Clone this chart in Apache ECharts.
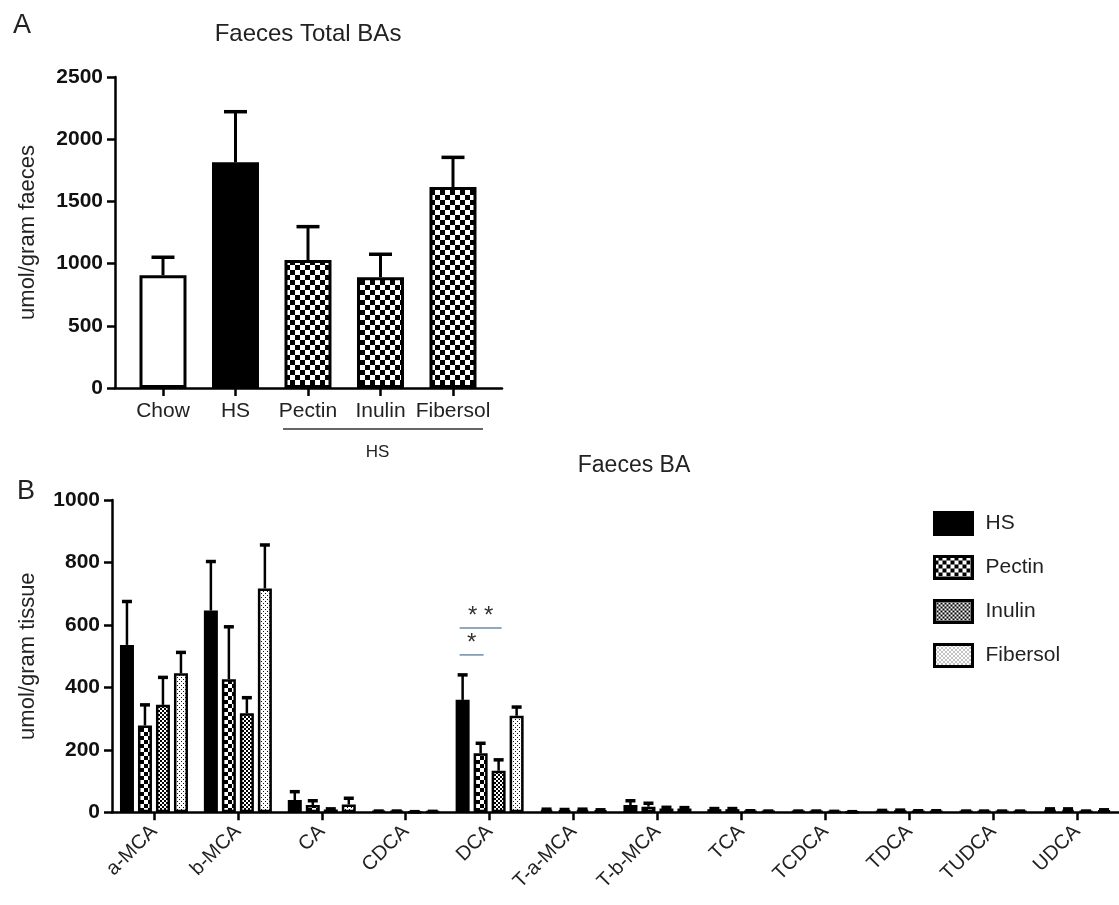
<!DOCTYPE html>
<html><head><meta charset="utf-8">
<script src="https://cdn.jsdelivr.net/npm/echarts@6/dist/echarts.min.js"></script>
<style>html,body{margin:0;padding:0;background:#fff}#c{width:1119px;height:905px}</style>
</head><body><div id="c"></div>
<script>
// ---------- Panel A data ----------
const groupsA = ['Chow', 'HS', 'Pectin', 'Inulin', 'Fibersol'];
const meanA = [906, 1814, 1029, 890, 1616];
const semA = [145, 407, 268, 185, 238];
const bracketA = { from: 2, to: 4, label: 'HS' };

// ---------- Panel B data ----------
const categoriesB = ['a-MCA', 'b-MCA', 'CA', 'CDCA', 'DCA', 'T-a-MCA', 'T-b-MCA', 'TCA', 'TCDCA', 'TDCA', 'TUDCA', 'UDCA'];
const seriesNamesB = ['HS', 'Pectin', 'Inulin', 'Fibersol'];
const hsB = [536, 646, 39, 3, 360, 8, 23, 10, 3, 4, 3, 8];
const hsErrB = [139, 157, 27, 1, 80, 2, 14, 2, 1, 2, 1, 3];
const pectinB = [278, 426, 23, 3, 189, 7, 18, 10, 3, 5, 3, 8];
const pectinErrB = [66, 168, 14, 1, 32, 2, 11, 2, 1, 2, 1, 3];
const inulinB = [344, 317, 9, 1, 133, 8, 12, 4, 2, 4, 3, 3];
const inulinErrB = [88, 50, 2, 1, 35, 2, 4, 1, 1, 1, 1, 1];
const fibersolB = [445, 717, 25, 2, 309, 6, 12, 3, 1, 4, 3, 6];
const fibersolErrB = [67, 139, 20, 1, 28, 2, 3, 1, 1, 1, 1, 2];
const sigCat = 4; // DCA
const sigPairs = [[0, 2], [0, 1]];
const sigY = [590, 504];
const sigLabels = ['* *', '*'];

// ---------- styles ----------
const FONT = '"Liberation Sans", Arial, Helvetica, sans-serif';
function pat(w, h, draw) {
  const c = document.createElement('canvas'); c.width = w; c.height = h;
  const g = c.getContext('2d'); draw(g);
  return { image: c, repeat: 'repeat' };
}
const checkerA = pat(10, 10, g => { g.fillStyle = '#fff'; g.fillRect(0, 0, 10, 10); g.fillStyle = '#000'; g.fillRect(0, 0, 5, 5); g.fillRect(5, 5, 5, 5); });
const pectinPat = pat(8, 8, g => { g.fillStyle = '#000'; g.fillRect(0, 0, 8, 8); g.fillStyle = '#fff'; g.fillRect(0, 0, 4, 4); g.fillRect(4, 4, 4, 4); });
const inulinPat = pat(4, 4, g => { g.fillStyle = '#fff'; g.fillRect(0, 0, 4, 4); g.fillStyle = '#000'; g.fillRect(0, 0, 2, 2); g.fillRect(2, 2, 2, 2); });
const fiberPat = pat(4, 4, g => { g.fillStyle = '#fff'; g.fillRect(0, 0, 4, 4); g.fillStyle = '#111'; g.fillRect(1, 1, 1, 1); g.fillRect(3, 3, 1, 1); });
const fillA = ['#fff', '#000', checkerA, checkerA, checkerA];
const fillB = ['#000', pectinPat, inulinPat, fiberPat];

const valuesB = [hsB, pectinB, inulinB, fibersolB];
const errsB = [hsErrB, pectinErrB, inulinErrB, fibersolErrB];
const BW = 14, GAP = 4;

function errRender(offsetFn, capW, lw, capLw) {
  return function (params, api) {
    const x = api.value(0), y1 = api.value(1), y2 = api.value(2);
    const p1 = api.coord([x, y1]), p2 = api.coord([x, y2]);
    const cx = p1[0] + offsetFn(params);
    return {
      type: 'group', children: [
        { type: 'line', shape: { x1: cx, y1: p1[1], x2: cx, y2: p2[1] }, style: { stroke: '#000', lineWidth: lw } },
        { type: 'line', shape: { x1: cx - capW / 2, y1: p2[1], x2: cx + capW / 2, y2: p2[1] }, style: { stroke: '#000', lineWidth: capLw } }
      ]
    };
  };
}

const axisCommon = {
  axisLine: { show: true, onZero: false, lineStyle: { color: '#000', width: 2.5 } },
  axisTick: { show: true, length: 8, lineStyle: { color: '#000', width: 2.5 } },
  splitLine: { show: false }
};

const series = [];
// Panel A bars
series.push({
  type: 'bar', name: 'TotalA', xAxisIndex: 0, yAxisIndex: 0, barWidth: 47,
  itemStyle: { borderColor: '#000', borderWidth: 3 },
  data: meanA.map((v, i) => ({ value: [i, v], itemStyle: { color: fillA[i] } })),
  z: 2
});
series.push({
  type: 'custom', name: 'errA', xAxisIndex: 0, yAxisIndex: 0, z: 3,
  renderItem: errRender(() => 0, 23, 3, 3.5),
  data: meanA.map((v, i) => [i, v, v + semA[i]])
});
series.push({
  type: 'custom', name: 'bracketA', xAxisIndex: 0, yAxisIndex: 0, z: 3,
  renderItem: function (params, api) {
    const a = api.coord([api.value(0), 0]), b = api.coord([api.value(1), 0]);
    const y = a[1] + 41;
    return {
      type: 'group', children: [
        { type: 'line', shape: { x1: a[0] - 25, y1: y, x2: b[0] + 30, y2: y }, style: { stroke: '#333', lineWidth: 1.3 } },
        { type: 'text', style: { text: bracketA.label, x: (a[0] + b[0]) / 2 - 3, y: y + 23, font: '17px ' + FONT, fill: '#222', textAlign: 'center', textVerticalAlign: 'middle', align: 'center', verticalAlign: 'middle' } }
      ]
    };
  },
  data: [[bracketA.from, bracketA.to]]
});
// Panel B bars
seriesNamesB.forEach((nm, k) => {
  series.push({
    type: 'bar', name: nm, xAxisIndex: 1, yAxisIndex: 1, barWidth: BW, barGap: (GAP / BW * 100) + '%',
    itemStyle: { color: fillB[k], borderColor: '#000', borderWidth: 2.5 },
    data: valuesB[k], z: 2
  });
});
seriesNamesB.forEach((nm, k) => {
  series.push({
    type: 'custom', name: 'err' + nm, xAxisIndex: 1, yAxisIndex: 1, z: 3,
    renderItem: errRender(() => (k - 1.5) * (BW + GAP), 10, 2.5, 3.5),
    data: valuesB[k].map((v, i) => [i, v, v + errsB[k][i]])
  });
});
series.push({
  type: 'custom', name: 'sig', xAxisIndex: 1, yAxisIndex: 1, z: 4,
  renderItem: function (params, api) {
    const i = params.dataIndex;
    const pr = sigPairs[i];
    const p = api.coord([sigCat, sigY[i]]);
    const x1 = p[0] + (pr[0] - 1.5) * (BW + GAP) - 3;
    const x2 = p[0] + (pr[1] - 1.5) * (BW + GAP) + 3;
    return {
      type: 'group', children: [
        { type: 'line', shape: { x1: x1, y1: p[1], x2: x2, y2: p[1] }, style: { stroke: '#6f8aa6', lineWidth: 1.5 } },
        { type: 'text', style: { text: sigLabels[i], x: (x1 + x2) / 2, y: p[1] - 12, font: '24px ' + FONT, fill: '#333', textAlign: 'center', textVerticalAlign: 'middle', align: 'center', verticalAlign: 'middle' } }
      ]
    };
  },
  data: sigY.map((y, i) => [sigCat, y])
});

const option = {
  animation: false,
  backgroundColor: '#fff',
  textStyle: { fontFamily: FONT },
  graphic: [
    { type: 'text', x: 13, y: 12, style: { text: 'A', font: '27px ' + FONT, fill: '#222' } },
    { type: 'text', x: 308, y: 34, style: { text: 'Faeces Total BAs', font: '24px ' + FONT, fill: '#222', textAlign: 'center', textVerticalAlign: 'middle', align: 'center', verticalAlign: 'middle' } },
    { type: 'text', x: 17, y: 478, style: { text: 'B', font: '27px ' + FONT, fill: '#222' } },
    { type: 'text', x: 634, y: 466, style: { text: 'Faeces BA', font: '23px ' + FONT, fill: '#222', textAlign: 'center', textVerticalAlign: 'middle', align: 'center', verticalAlign: 'middle' } }
  ],
  legend: {
    data: seriesNamesB, orient: 'vertical', left: 928, top: 506,
    itemWidth: 38, itemHeight: 22, itemGap: 19, icon: 'rect',
    itemStyle: { borderWidth: 3, borderColor: '#000' },
    textStyle: { fontSize: 21, color: '#222', fontFamily: FONT, padding: [0, 0, 0, 8] }
  },
  grid: [
    { left: 115, top: 77, width: 387, height: 311 },
    { left: 112, top: 500, width: 1012, height: 312.3 }
  ],
  xAxis: [
    Object.assign({}, axisCommon, {
      type: 'value', gridIndex: 0, min: -0.662, max: 4.676,
      axisTick: { show: true, length: 8, lineStyle: { color: '#000', width: 2.5 }, customValues: groupsA.map((g, i) => i) },
      axisLabel: { customValues: groupsA.map((g, i) => i), formatter: v => groupsA[Math.round(v)], fontSize: 21, color: '#222', margin: 13, fontFamily: FONT }
    }),
    Object.assign({}, axisCommon, {
      type: 'category', gridIndex: 1, data: categoriesB,
      axisTick: { show: true, alignWithLabel: true, length: 8, lineStyle: { color: '#000', width: 2.5 } },
      axisLabel: { rotate: 45, fontSize: 20, color: '#222', margin: 16, fontFamily: FONT, interval: 0 }
    })
  ],
  yAxis: [
    Object.assign({}, axisCommon, {
      type: 'value', gridIndex: 0, min: 0, max: 2500, interval: 500,
      axisLabel: { fontSize: 21, fontWeight: 'bold', color: '#111', margin: 12, fontFamily: FONT, formatter: v => String(v) },
      name: 'umol/gram faeces', nameLocation: 'middle', nameGap: 76, nameRotate: 90,
      nameTextStyle: { fontSize: 22, color: '#222', fontFamily: FONT }
    }),
    Object.assign({}, axisCommon, {
      type: 'value', gridIndex: 1, min: 0, max: 1000, interval: 200,
      axisLabel: { fontSize: 21, fontWeight: 'bold', color: '#111', margin: 12, fontFamily: FONT, formatter: v => String(v) },
      name: 'umol/gram tissue', nameLocation: 'middle', nameGap: 73, nameRotate: 90,
      nameTextStyle: { fontSize: 22, color: '#222', fontFamily: FONT }
    })
  ],
  series: series
};
const chart = echarts.init(document.getElementById('c'), null, { renderer: 'canvas' });
chart.setOption(option);
</script></body></html>
